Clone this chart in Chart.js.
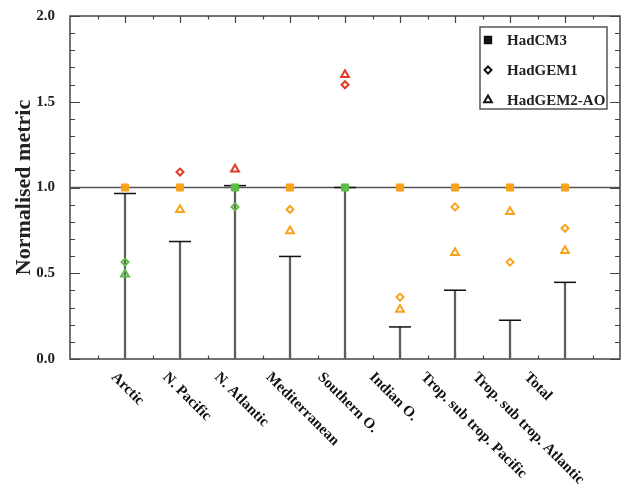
<!DOCTYPE html>
<html lang="en">
<head>
  <meta charset="UTF-8">
  <title>Normalised metric by region</title>
  <style>
    html, body { margin: 0; padding: 0; background: #fff; }
    #wrap { width: 625px; height: 495px; }
  </style>
</head>
<body>
<div id="wrap"><canvas id="chart" width="625" height="495"></canvas></div>

<script src="https://cdn.jsdelivr.net/npm/chart.js"></script>
<script>
  // data
  const regions = ['Arctic', 'N. Pacific', 'N. Atlantic', 'Mediterranean', 'Southern O.',
                   'Indian O.', 'Trop. sub trop. Pacific', 'Trop. sub trop. Atlantic', 'Total'];
  const baseline = [0.965, 0.685, 1.011, 0.598, 1.0, 0.187, 0.401, 0.226, 0.447];
  const hadcm3   = [1.0, 1.0, 1.0, 1.0, 1.0, 1.0, 1.0, 1.0, 1.0];
  const hadgem1  = [0.565, 1.090, 0.887, 0.872, 1.599, 0.361, 0.887, 0.565, 0.762];
  const hadgem2  = [0.494, 0.870, 1.107, 0.747, 1.657, 0.289, 0.619, 0.858, 0.631];
  // colour class of each marker: o = orange, g = green, r = red
  const hadcm3Cls  = ['o', 'o', 'g', 'o', 'g', 'o', 'o', 'o', 'o'];
  const hadgem1Cls = ['g', 'r', 'g', 'o', 'r', 'o', 'o', 'o', 'o'];
  const hadgem2Cls = ['g', 'o', 'r', 'o', 'r', 'o', 'o', 'o', 'o'];
  const yTicks = [0.0, 0.5, 1.0, 1.5, 2.0];
  const refLevel = 1.0;

  const palette = { o: '#f9a31c', g: '#5cbf45', r: '#e23a2a' };
  const serif = "'Liberation Serif', 'Times New Roman', serif";

  const pts = arr => arr.map((v, i) => ({ x: i + 1, y: v }));
  const cols = cls => cls.map(c => palette[c]);

  // frame with inward ticks, like the original plot
  const framePlugin = {
    id: 'frame',
    beforeDatasetsDraw(chart) {
      const { ctx, chartArea: a, scales: { x, y } } = chart;
      ctx.save();
      ctx.strokeStyle = '#444';
      ctx.lineWidth = 1.5;
      ctx.strokeRect(a.left, a.top, a.right - a.left, a.bottom - a.top);
      ctx.lineWidth = 1.2;
      ctx.beginPath();
      for (let k = 0; k <= 20; k++) {
        const py = Math.round(y.getPixelForValue(k / 10)) + 0.5;
        const len = k % 5 === 0 ? 10 : 5;
        ctx.moveTo(a.left, py); ctx.lineTo(a.left + len, py);
        ctx.moveTo(a.right, py); ctx.lineTo(a.right - len, py);
      }
      for (let k = 1; k < 20; k++) {
        const px = Math.round(x.getPixelForValue(k / 2)) + 0.5;
        const len = k % 2 === 0 ? 7 : 3.5;
        ctx.moveTo(px, a.bottom); ctx.lineTo(px, a.bottom - len);
        ctx.moveTo(px, a.top); ctx.lineTo(px, a.top + len);
      }
      ctx.stroke();
      ctx.restore();
    },
    afterDraw(chart) {
      const { ctx, chartArea: a, scales: { x } } = chart;
      ctx.save();
      // slanted category labels
      ctx.fillStyle = '#111';
      ctx.font = 'bold 15px ' + serif;
      ctx.textAlign = 'left';
      ctx.textBaseline = 'middle';
      regions.forEach((r, i) => {
        const px = x.getPixelForValue(i + 1) - 11.5 - i * 3.4;
        ctx.save();
        ctx.translate(px, a.bottom + 16);
        ctx.rotate(Math.PI / 4);
        ctx.fillText(r, 0, 0);
        ctx.restore();
      });

      // legend box
      const bx = a.right - 140, by = a.top + 11, bw = 127, bh = 82;
      ctx.fillStyle = '#fff';
      ctx.fillRect(bx, by, bw, bh);
      ctx.strokeStyle = '#555';
      ctx.lineWidth = 1.5;
      ctx.strokeRect(bx, by, bw, bh);
      const items = [
        { label: 'HadCM3', style: 'rect', radius: 4.5, fill: '#111' },
        { label: 'HadGEM1', style: 'rectRot', radius: 3.5, fill: null },
        { label: 'HadGEM2-AO', style: 'triangle', radius: 4.5, fill: null }
      ];
      ctx.font = 'bold 15px ' + serif;
      items.forEach((it, i) => {
        const cy = by + 13 + i * 30;
        ctx.save();
        ctx.strokeStyle = '#111';
        ctx.fillStyle = it.fill || 'rgba(0,0,0,0)';
        ctx.lineWidth = 2;
        Chart.helpers.drawPoint(ctx, { pointStyle: it.style, radius: it.radius, rotation: 0, borderWidth: 2 }, bx + 8, cy);
        ctx.restore();
        ctx.fillStyle = '#222';
        ctx.fillText(it.label, bx + 27, cy + 1);
      });
      ctx.restore();
    }
  };

  const ctx = document.getElementById('chart').getContext('2d');
  const chart = new Chart(ctx, {
    type: 'scatter',
    data: {
      datasets: [
        {
          type: 'line',
          label: 'reference',
          data: [{ x: 0, y: refLevel }, { x: 10, y: refLevel }],
          borderColor: '#555',
          borderWidth: 1.5,
          pointRadius: 0,
          order: 10
        },
        {
          type: 'bar',
          label: 'stem',
          data: pts(baseline),
          backgroundColor: '#5e5e5e',
          barThickness: 1.6,
          order: 9
        },
        {
          label: 'cap',
          data: pts(baseline),
          pointStyle: 'line',
          pointRadius: 11,
          borderColor: '#111',
          borderWidth: 1.5,
          order: 8
        },
        {
          label: 'HadCM3',
          data: pts(hadcm3),
          pointStyle: 'rect',
          pointRadius: 5,
          backgroundColor: cols(hadcm3Cls),
          borderColor: cols(hadcm3Cls),
          borderWidth: 1,
          order: 3
        },
        {
          label: 'HadGEM1',
          data: pts(hadgem1),
          pointStyle: 'rectRot',
          pointRadius: 3.5,
          backgroundColor: 'rgba(0,0,0,0)',
          borderColor: cols(hadgem1Cls),
          borderWidth: 2,
          order: 2
        },
        {
          label: 'HadGEM2-AO',
          data: pts(hadgem2),
          pointStyle: 'triangle',
          pointRadius: 4.5,
          backgroundColor: 'rgba(0,0,0,0)',
          borderColor: cols(hadgem2Cls),
          borderWidth: 2,
          order: 1
        }
      ]
    },
    options: {
      responsive: false,
      animation: false,
      events: [],
      layout: { autoPadding: false, padding: { top: 14, right: 5, left: 0, bottom: 0 } },
      plugins: {
        legend: { display: false },
        tooltip: { enabled: false }
      },
      scales: {
        x: {
          type: 'linear',
          min: 0,
          max: 10,
          offset: false,
          grid: { display: false },
          border: { display: false },
          ticks: { display: false },
          afterFit: s => { s.height = 136; }
        },
        y: {
          min: 0,
          max: 2,
          grid: { display: false },
          border: { display: false },
          afterBuildTicks: s => { s.ticks = yTicks.map(v => ({ value: v })); },
          ticks: {
            padding: 7,
            color: '#222',
            font: { family: serif, size: 15, weight: 'bold' },
            callback: v => Number(v).toFixed(1)
          },
          title: {
            display: true,
            text: 'Normalised metric',
            color: '#222',
            padding: { top: 11, bottom: 0 },
            font: { family: serif, size: 22, weight: 'bold' }
          },
          afterFit: s => { s.width = 70; }
        }
      }
    },
    plugins: [framePlugin]
  });
</script>
</body>
</html>
